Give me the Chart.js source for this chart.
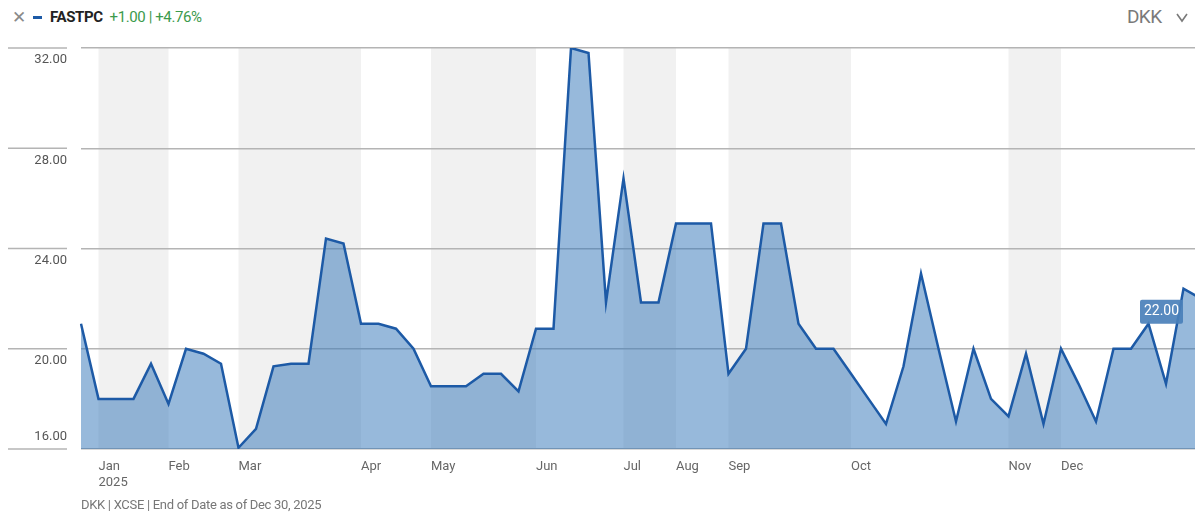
<!DOCTYPE html>
<html>
<head>
<meta charset="utf-8">
<script src="https://cdn.jsdelivr.net/npm/chart.js@4.4.1/dist/chart.umd.min.js"></script>
<style>
  body { margin: 0; width: 1195px; height: 515px; overflow: hidden; background: #fff;
         font-family: "Liberation Sans Narrow", "Roboto", sans-serif; }
  .chart-wrap { position: absolute; left: 0; top: 0; width: 1210px; height: 515px; }
  .hdr { position: absolute; top: 7px; white-space: nowrap; font-size: 15px; line-height: 20px; letter-spacing: -0.4px; }
  .close { left: 12px; color: #8a8a8a; font-size: 17px; letter-spacing: 0; }
  .dash { position: absolute; left: 33px; top: 16px; width: 9px; height: 3px; background: #1d5aa6; }
  .ticker { left: 50px; color: #222; font-weight: bold; display: flex; gap: 7px; }
  .ticker span { font-weight: normal; color: #3c9a4c; }
  .ccy { left: 1127px; color: #7a7a7a; font-size: 19px; letter-spacing: -0.6px; }
  .chev { left: 1175px; top: 10px; width: 14px; height: 14px; }
  .footer { position: absolute; left: 81px; top: 497px; color: #777; font-size: 13px; letter-spacing: -0.3px; }
</style>
</head>
<body>
<div class="hdr close">&#x2715;</div>
<div class="dash"></div>
<div class="hdr ticker">FASTPC <span>+1.00 | +4.76%</span></div>
<div class="hdr ccy">DKK</div>
<svg class="hdr chev" viewBox="0 0 14 14"><polyline points="2,4 7,11 12,4" fill="none" stroke="#7a7a7a" stroke-width="1.6"/></svg>
<div class="chart-wrap"><canvas id="priceChart"></canvas></div>
<div class="footer">DKK | XCSE | End of Date as of Dec 30, 2025</div>

<script>
// closing prices, one point per period
const prices = [
  21.0, 18.0, 18.0, 18.0, 19.4, 17.8, 20.0, 19.8, 19.4, 16.05,
  16.8, 19.3, 19.4, 19.4, 24.4, 24.2, 21.0, 21.0, 20.8, 20.0,
  18.5, 18.5, 18.5, 19.0, 19.0, 18.3, 20.8, 20.8, 32.0, 31.8,
  21.85, 26.8, 21.85, 21.85, 25.0, 25.0, 25.0, 19.0, 20.0, 25.0,
  25.0, 21.0, 20.0, 20.0, 19.0, 18.0, 17.0, 19.3, 23.0, 20.0,
  17.1, 20.0, 18.0, 17.3, 19.8, 17.0, 20.0, 18.6, 17.1, 20.0,
  20.0, 21.0, 18.6, 22.4, 22.0
];
const monthNames = ["Jan", "Feb", "Mar", "Apr", "May", "Jun", "Jul", "Aug", "Sep", "Oct", "Nov", "Dec"];
const monthStartIndex = [1, 5, 9, 16, 20, 26, 31, 34, 37, 44, 53, 56];
const yearLabel = "2025";
const yTicks = [16, 20, 24, 28, 32];

const categories = prices.map((p, i) => {
  const m = monthStartIndex.indexOf(i);
  return m >= 0 ? monthNames[m] : "";
});

const FONT = "'Liberation Sans Narrow', Roboto, sans-serif";

// gray bands behind every other month
const monthBands = {
  id: "monthBands",
  beforeDraw(chart) {
    const { ctx, chartArea, scales } = chart;
    ctx.save();
    ctx.fillStyle = "#f1f1f1";
    for (let m = 0; m < monthStartIndex.length - 1; m += 2) {
      const x1 = scales.x.getPixelForValue(monthStartIndex[m]);
      const x2 = scales.x.getPixelForValue(monthStartIndex[m + 1]);
      ctx.fillRect(x1, chartArea.top, x2 - x1, chartArea.bottom - chartArea.top);
    }
    ctx.restore();
  }
};

// y labels sit under a short rule left of the plot
const yLabels = {
  id: "yLabels",
  afterDraw(chart) {
    const { ctx, scales } = chart;
    const y = scales.y;
    ctx.save();
    ctx.font = "13px " + FONT;
    ctx.fillStyle = "#555";
    ctx.textAlign = "right";
    ctx.textBaseline = "middle";
    ctx.strokeStyle = "#b4b4b4";
    ctx.lineWidth = 1.5;
    y.ticks.forEach(t => {
      const py = y.getPixelForValue(t.value);
      ctx.beginPath();
      ctx.moveTo(8, py);
      ctx.lineTo(67, py);
      ctx.stroke();
      const off = t.value === y.min ? -12 : 12;
      ctx.fillText(t.value.toFixed(2), 67, py + off);
    });
    ctx.restore();
  }
};

// last price tag
const lastTag = {
  id: "lastTag",
  afterDatasetsDraw(chart) {
    const { ctx, scales } = chart;
    const last = prices[prices.length - 1];
    const py = scales.y.getPixelForValue(last);
    ctx.save();
    ctx.fillStyle = "rgba(74,128,186,0.92)";
    ctx.beginPath();
    ctx.roundRect(1140, py + 1, 43, 24, 2);
    ctx.fill();
    ctx.fillStyle = "#fff";
    ctx.font = "14px " + FONT;
    ctx.textAlign = "center";
    ctx.textBaseline = "middle";
    ctx.fillText(last.toFixed(2), 1161.5, py + 13);
    ctx.restore();
  }
};

new Chart(document.getElementById("priceChart"), {
  type: "line",
  data: {
    labels: categories,
    datasets: [{
      data: prices,
      borderColor: "#1d5aa6",
      borderWidth: 2.5,
      backgroundColor: "rgba(47,115,183,0.5)",
      fill: "start",
      tension: 0,
      pointRadius: 0
    }]
  },
  options: {
    responsive: true,
    maintainAspectRatio: false,
    animation: false,
    layout: { padding: { left: 81, top: 48, right: 9, bottom: 0 } },
    plugins: { legend: { display: false }, tooltip: { enabled: false } },
    scales: {
      x: {
        grid: { display: false },
        border: { display: false },
        ticks: {
          autoSkip: false,
          maxRotation: 0,
          align: "start",
          padding: 2,
          color: "#666",
          font: { size: 13, family: FONT },
          callback: function (value, index) {
            const name = categories[index];
            if (!name) return null;
            return index === monthStartIndex[0] ? [name, yearLabel] : name;
          }
        },
        afterFit(scale) {
          scale.height = 66;
          scale.paddingLeft = 0;
          scale.paddingRight = 0;
        }
      },
      y: {
        min: yTicks[0],
        max: yTicks[yTicks.length - 1],
        afterBuildTicks(scale) {
          scale.ticks = yTicks.map(v => ({ value: v }));
        },
        grid: { color: "#b4b4b4", lineWidth: 1.5, drawTicks: false },
        border: { display: false },
        ticks: { display: false }
      }
    }
  },
  plugins: [monthBands, yLabels, lastTag]
});
</script>
</body>
</html>
